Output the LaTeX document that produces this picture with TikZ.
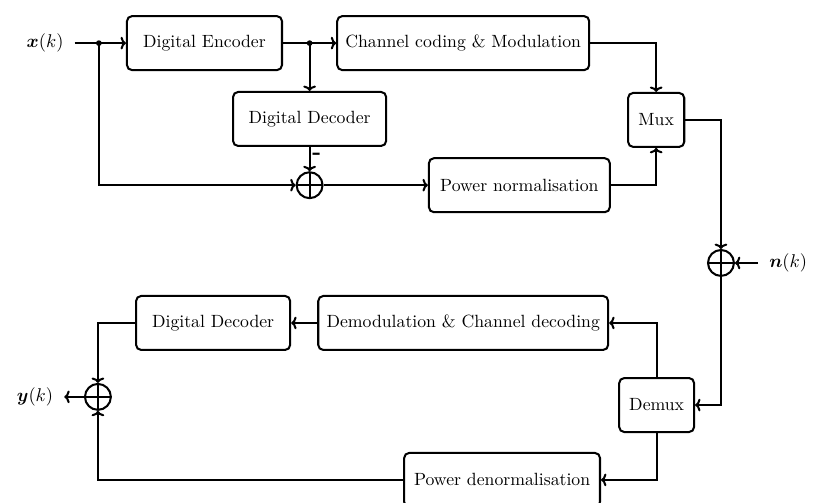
\documentclass[tikz,border=0pt]{standalone}
\usepackage{amsmath}
\usepackage{amssymb}
\usepackage{tikz}
\usetikzlibrary{arrows.meta}

\begin{document}
\begin{tikzpicture}
  [line width=1.2pt,>={To[length=3.2pt,width=7.5pt]},
   every node/.style={font=\fontsize{10.5}{13}\selectfont},
   block/.style={draw,rounded corners=3pt,minimum height=1.125cm,align=center},
   sum/.style={draw,circle,minimum size=0.54cm,inner sep=0pt,
     path picture={\draw[line width=1.2pt]
       (path picture bounding box.north) -- (path picture bounding box.south)
       (path picture bounding box.west) -- (path picture bounding box.east);}},
   lab/.style={inner sep=6pt}]
  \useasboundingbox (0,0) rectangle (17.0625,10.4583);

  % transmitter
  \node[lab] (xk) at (0.94, 9.56) {$\boldsymbol{x}(k)$};
  \coordinate (j1) at (2.06, 9.56);
  \node[block,minimum width=3.23cm] (enc) at (4.26, 9.56) {Digital Encoder};
  \coordinate (j2) at (6.45, 9.56);
  \node[block,minimum width=5.25cm] (chan) at (9.65, 9.56) {Channel coding \& Modulation};
  \node[block,minimum width=3.19cm] (dec1) at (6.45, 7.98) {Digital Decoder};
  \node[sum] (sum1) at (6.45, 6.60) {};
  \node[block,minimum width=3.77cm] (pnorm) at (10.82, 6.60) {Power normalisation};
  \node[block,minimum width=1.17cm] (mux) at (13.67, 7.96) {Mux};

  % channel
  \node[sum] (sum2) at (15.02, 4.98) {};
  \node[lab] (nk) at (16.42, 4.98) {$\boldsymbol{n}(k)$};

  % receiver
  \node[block,minimum width=1.56cm] (demux) at (13.68, 2.02) {Demux};
  \node[block,minimum width=6.04cm] (demod) at (9.65, 3.73) {Demodulation \& Channel decoding};
  \node[block,minimum width=3.21cm] (dec2) at (4.44, 3.73) {Digital Decoder};
  \node[block,minimum width=4.08cm] (pden) at (10.46, 0.46) {Power denormalisation};
  \node[sum] (sum3) at (2.04, 2.19) {};
  \node[lab] (yk) at (0.73, 2.19) {$\boldsymbol{y}(k)$};

  \foreach \from/\to in {xk/enc,enc/chan,j2/dec1,dec1/sum1,sum1/pnorm,nk/sum2,demod/dec2,sum3/yk}
    \draw[->] (\from) -- (\to);

  \draw[->] (j1) |- (sum1);
  \draw[->] (chan) -| (mux);
  \draw[->] (pnorm) -| (mux);
  \draw[->] (mux) -| (sum2);
  \draw[->] (sum2) |- (demux);
  \draw[->] (demux) |- (demod);
  \draw[->] (demux) |- (pden);
  \draw[->] (dec2) -| (sum3);
  \draw[->] (pden) -| (sum3);

  \fill (j1) circle (1.7pt);
  \fill (j2) circle (1.7pt);
  \node[inner sep=0pt,font=\fontsize{14}{16}\bfseries] (minus) at (6.60, 7.20) {-};
\end{tikzpicture}
\end{document}
